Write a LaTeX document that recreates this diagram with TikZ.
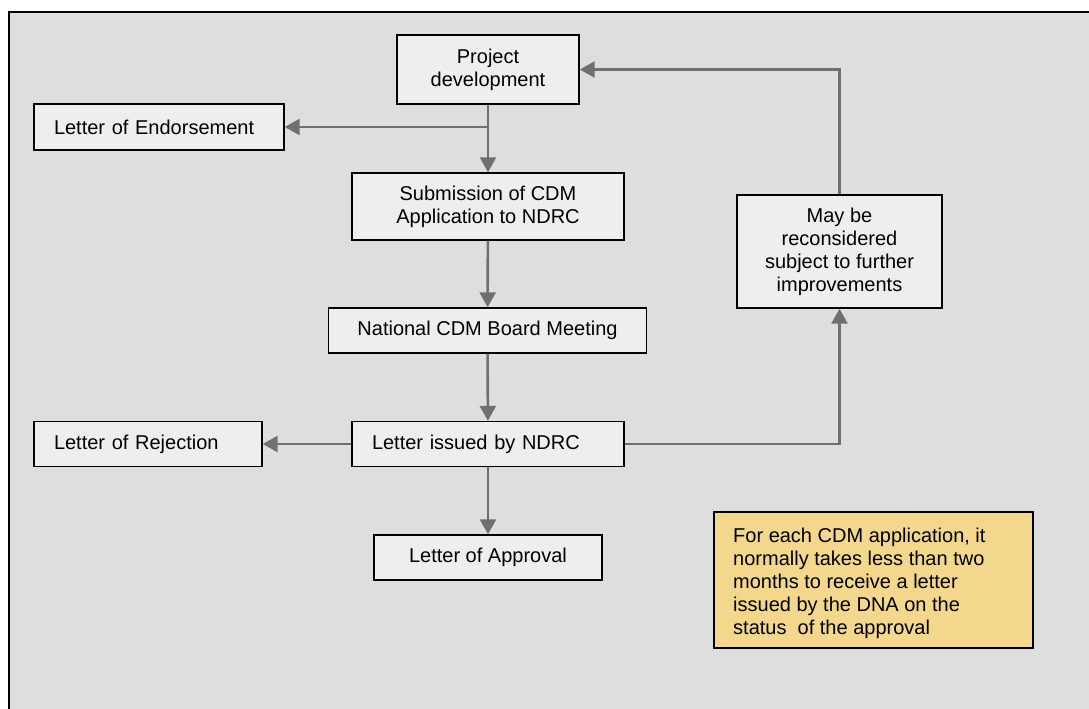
\documentclass[tikz,border=0pt]{standalone}
\usepackage{fontspec}
\setmainfont{Liberation Sans}
\usetikzlibrary{arrows.meta,positioning,calc}
\definecolor{panel}{RGB}{222,222,222}
\definecolor{boxgray}{RGB}{238,238,238}
\definecolor{flowgray}{RGB}{112,112,112}
\definecolor{notesand}{RGB}{242,215,140}

\tikzset{
  stepbox/.style={draw=black,line width=1.4pt,fill=boxgray,inner sep=0pt,
    align=center,font=\fontsize{20}{23}\selectfont},
  leftbox/.style={stepbox,inner xsep=20pt,align=left},
  flow/.style={flowgray,line width=2.6pt,-{Triangle[length=15pt,width=16pt]}}
}

\begin{document}
\begin{tikzpicture}[x=1pt,y=-1pt]
        \useasboundingbox (0,0) rectangle (1089,709);
        \draw[black,line width=1.5pt,fill=panel] (9,12) rectangle (1100,720);
        % main column
        \node[stepbox,minimum width=182pt,minimum height=69pt] (pd) at (488,69.5) {Project\\development};
        \node[leftbox,text width=210pt,minimum height=46pt] (endorse) at (159,127) {Letter of Endorsement};
        \node[stepbox,minimum width=272pt,minimum height=67pt] (submit) at (488,206.5) {Submission of CDM\\Application to NDRC};
        \node[stepbox,minimum width=318pt,minimum height=45pt] (board) at (487.5,330.5) {National CDM Board Meeting};
        \node[leftbox,text width=232pt,minimum height=45pt] (issued) at (488,444) {Letter issued by NDRC};
        \node[leftbox,text width=188pt,minimum height=45pt] (reject) at (148,444) {Letter of Rejection};
        \node[stepbox,minimum width=228pt,minimum height=45pt] (approve) at (488,557.5) {Letter of Approval};
        % feedback loop
        \node[stepbox,minimum width=205pt,minimum height=113pt] (recon) at (839.5,251.5)
          {May be\\reconsidered\\subject to further\\improvements};
        % note
        \node[draw=black,line width=1.4pt,fill=notesand,minimum width=319pt,minimum height=136pt,
          inner sep=0pt] (note) at (873.5,580) {};
        \node[anchor=north west,align=left,inner sep=0pt,font=\fontsize{20}{23}\selectfont]
          (notetext) at (733,528) {For each CDM application, it\\normally takes less than two\\months to receive a letter\\issued by the DNA on the\\status\ \ of the approval};
        % connectors
        \coordinate (split) at (pd.south |- endorse.east);
        \draw[flow] (pd) -- (submit);
        \draw[flow] (split) -- (endorse.east);
        \draw[flow] (submit) -- (board);
        \draw[flow] (board) -- (issued);
        \draw[flow] (issued) -- (reject);
        \draw[flow] (issued) -- (approve);
        \draw[flow] (issued.east) -| (recon.south);
        \draw[flow] (recon.north) |- (pd.east);
      \end{tikzpicture}
\end{document}
